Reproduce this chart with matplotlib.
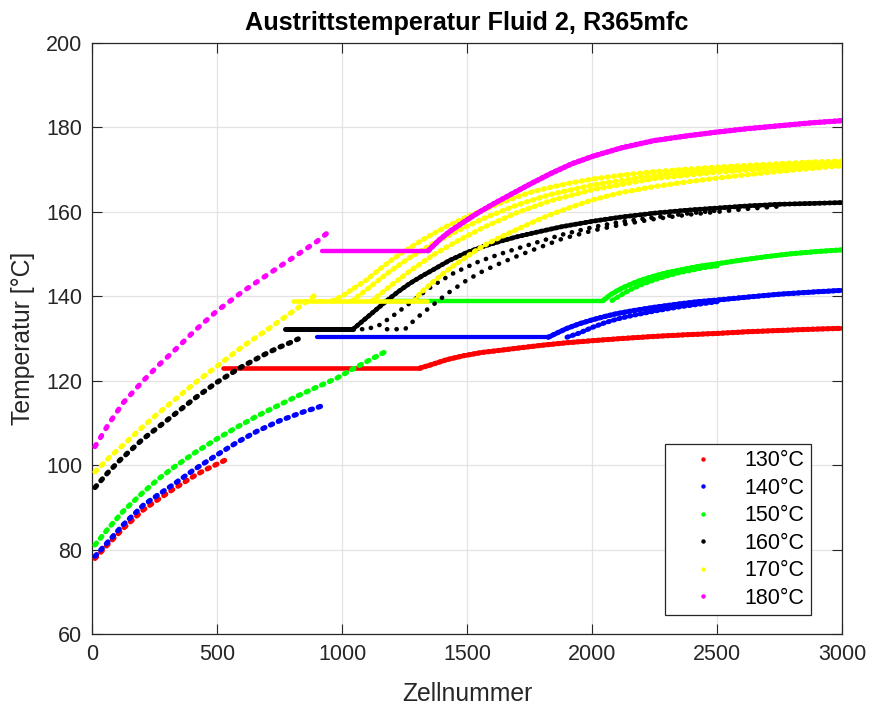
import matplotlib
matplotlib.use("Agg")
import matplotlib.pyplot as plt
from matplotlib.lines import Line2D

plt.rcParams['font.family'] = ['Liberation Sans', 'DejaVu Sans']

labels = ['130°C', '140°C', '150°C', '160°C', '170°C', '180°C']
colors = ['#ff0000', '#0000ff', '#00ff00', '#000000', '#ffff00', '#ff00ff']

# ---- 130 °C ----
c130_liq = [12, 65, 125, 205, 265, 325, 405, 450, 492, 540]
t130_liq = [77.9, 81.3, 85.0, 89.4, 91.9, 94.3, 97.3, 98.8, 100.0, 101.4]
c130_evap = [525, 1312]
t130_evap = [123.0, 123.0]
c130_vap = [1312, 1352, 1420, 1485, 1560, 1632, 1700, 1800, 1900, 2005, 2120, 2250,
            2380, 2499, 2620, 2750, 2880, 3000]
t130_vap = [123.0, 123.7, 125.0, 125.9, 126.7, 127.2, 127.7, 128.4, 129.0, 129.5, 130.0,
            130.5, 130.9, 131.2, 131.6, 131.9, 132.2, 132.4]

# ---- 140 °C ----
c140_liq = [12, 65, 125, 205, 265, 325, 405, 499, 580, 659, 750, 845, 919]
t140_liq = [78.4, 81.9, 85.9, 90.5, 93.0, 95.4, 98.8, 102.4, 105.4, 108.0, 110.5, 112.6, 114.0]
c140_evap = [899, 1830]
t140_evap = [130.3, 130.3]
c140_vap_a = [1825, 1860, 1900, 1950, 2000, 2050, 2100, 2165, 2250, 2350, 2420, 2500,
              2620, 2750, 2880, 3000]
t140_vap_a = [130.3, 131.3, 132.4, 133.5, 134.4, 135.2, 135.9, 136.6, 137.4, 138.2, 138.7,
              139.1, 139.8, 140.5, 141.0, 141.4]
c140_vap_b = [1900, 1950, 2000, 2050, 2100, 2165, 2250, 2350, 2450, 2500]
t140_vap_b = [130.3, 131.3, 132.6, 133.7, 134.6, 135.5, 136.5, 137.5, 138.3, 138.7]

# ---- 150 °C ----
c150_liq = [12, 65, 125, 205, 265, 325, 410, 499, 580, 659, 740, 819, 900, 979, 1050, 1168]
t150_liq = [81.1, 85.0, 89.1, 93.6, 96.7, 99.4, 102.9, 106.2, 109.0, 111.6, 114.0, 116.3,
            118.5, 120.6, 123.0, 126.7]
c150_evap = [1168, 2045]
t150_evap = [139.0, 139.0]
c150_vap_a = [2045, 2072, 2100, 2130, 2165, 2200, 2250, 2299, 2350, 2400, 2450, 2500,
              2600, 2699, 2800, 2900, 3000]
t150_vap_a = [139.0, 140.3, 141.3, 142.2, 143.1, 143.9, 144.8, 145.6, 146.2, 146.8, 147.3,
              147.7, 148.6, 149.4, 150.1, 150.6, 151.0]
c150_vap_b = [2080, 2100, 2130, 2165, 2200, 2250, 2299, 2350, 2400, 2450, 2500]
t150_vap_b = [139.0, 139.7, 140.8, 141.9, 142.8, 143.9, 144.8, 145.6, 146.2, 146.8, 147.2]

# ---- 160 °C ----
c160_liq = [12, 60, 112, 200, 265, 325, 410, 499, 599, 699, 752, 800, 825]
t160_liq = [94.7, 98.0, 101.2, 106.0, 109.0, 111.8, 115.8, 119.6, 123.3, 126.5, 128.0,
            129.2, 129.9]
c160_evap = [772, 1044]
t160_evap = [132.2, 132.2]
c160_vap_a = [1044, 1070, 1100, 1140, 1180, 1225, 1270, 1320, 1365, 1430, 1500, 1565,
              1632, 1700, 1765, 1880, 2005, 2120, 2250, 2380, 2500, 2620, 2750, 2880, 3000]
t160_vap_a = [132.2, 133.5, 135.0, 137.0, 139.0, 141.1, 143.0, 144.8, 146.3, 148.5, 150.4,
              151.8, 153.0, 154.1, 155.0, 156.5, 157.8, 158.8, 159.7, 160.4, 160.9, 161.4,
              161.8, 162.0, 162.2]
c160_vap_b = [1044, 1100, 1150, 1200, 1272, 1320, 1365, 1450, 1550, 1632, 1700, 1765,
              1880, 2005, 2120, 2250, 2380, 2500]
t160_vap_b = [132.2, 132.2, 133.2, 135.2, 138.4, 140.6, 142.6, 145.6, 148.3, 150.0, 151.3,
              152.5, 154.6, 156.4, 157.7, 158.7, 159.6, 160.3]
c160_vap_c = [1180, 1252, 1272, 1310, 1352, 1420, 1499, 1565, 1632, 1700, 1765, 1880,
              2005, 2120, 2250, 2380, 2500, 2620, 2750]
t160_vap_c = [132.2, 132.2, 133.4, 135.4, 137.4, 140.6, 143.8, 146.0, 147.8, 149.5, 151.0,
              153.6, 155.6, 157.0, 158.3, 159.3, 160.0, 160.7, 161.3]

# ---- 170 °C ----
c170_liq = [12, 65, 125, 205, 265, 325, 410, 499, 600, 699, 765, 830, 872, 899]
t170_liq = [98.4, 101.6, 104.8, 109.2, 112.3, 115.2, 119.4, 123.4, 128.0, 132.0, 134.8,
            137.5, 139.3, 140.6]
c170_evap = [805, 1340]
t170_evap = [138.9, 138.9]
c170_vap_a = [960, 1000, 1050, 1099, 1150, 1192, 1235, 1272, 1320, 1365, 1410, 1459, 1510,
              1565, 1630, 1699, 1765, 1832, 1920, 2005, 2120, 2250, 2380, 2500, 2620, 2750,
              2880, 3000]
t170_vap_a = [138.9, 140.0, 142.0, 143.9, 146.4, 148.3, 150.1, 151.5, 153.3, 154.8, 156.3,
              157.7, 159.1, 160.4, 162.0, 163.5, 164.8, 165.8, 166.9, 167.8, 168.7, 169.5,
              170.1, 170.6, 171.0, 171.4, 171.8, 172.0]
c170_vap_b = [1040, 1099, 1150, 1192, 1272, 1365, 1459, 1565, 1699, 1832, 2005, 2250, 2500,
              2750, 3000]
t170_vap_b = [138.9, 141.6, 144.0, 145.9, 149.2, 152.5, 155.4, 158.4, 161.6, 164.1, 166.4,
              168.6, 170.0, 171.0, 171.6]
c170_vap_c = [1120, 1192, 1272, 1365, 1459, 1565, 1699, 1832, 2005, 2250, 2500, 2750, 3000]
t170_vap_c = [138.9, 142.4, 146.0, 149.8, 153.0, 156.3, 159.8, 162.6, 165.3, 167.9, 169.4,
              170.5, 171.3]
c170_vap_d = [1290, 1312, 1360, 1405, 1450, 1499, 1540, 1579, 1640, 1699, 1765, 1832, 1920,
              2005, 2120, 2250, 2380, 2500, 2620, 2750, 2880, 3000]
t170_vap_d = [138.9, 140.7, 143.2, 145.4, 147.4, 149.4, 151.0, 152.4, 154.2, 155.8, 157.6,
              159.3, 161.2, 162.9, 164.6, 166.0, 167.1, 168.0, 168.8, 169.6, 170.3, 170.9]

# ---- 180 °C ----
c180_liq = [12, 65, 125, 205, 265, 325, 410, 499, 600, 699, 800, 900, 939]
t180_liq = [104.4, 109.6, 114.8, 120.0, 123.6, 126.9, 131.8, 136.5, 141.0, 145.0, 149.0,
            153.0, 154.9]
c180_evap = [919, 1345]
t180_evap = [150.8, 150.8]
c180_vap = [1345, 1390, 1432, 1480, 1539, 1600, 1659, 1740, 1832, 1920, 2005, 2120, 2250,
            2380, 2500, 2620, 2750, 2880, 3000]
t180_vap = [150.8, 153.4, 155.4, 157.3, 159.6, 161.7, 163.6, 166.2, 169.0, 171.4, 173.2,
            175.2, 176.9, 178.0, 178.9, 179.7, 180.4, 181.1, 181.6]

x_ticks = [0, 500, 1000, 1500, 2000, 2500, 3000]
y_ticks = [60, 80, 100, 120, 140, 160, 180, 200]

W, H = 871, 708
fig = plt.figure(figsize=(W / 100, H / 100), dpi=100)
ax = fig.add_axes([92 / W, 1 - 634 / H, 750 / W, 591 / H])

PX = 0.72  # points per pixel at 100 dpi


def dotted(x, y, color, lw_px=5.2, step_px=9.0, on=0.45, z=3):
    lw = lw_px * PX
    off = step_px * PX / lw - on
    ax.plot(x, y, color=color, lw=lw, linestyle=(0, (on, off)),
            dash_capstyle='round', zorder=z)


def solid(x, y, color, lw_px=4.6, z=3):
    ax.plot(x, y, color=color, lw=lw_px * PX, solid_capstyle='round', zorder=z)


def band(x, y, color, lw_px=4.4):
    solid(x, y, color, lw_px=lw_px)
    dotted(x, y, color, lw_px=lw_px + 0.8, step_px=5.0, on=0.3)


# 130 °C
col = colors[0]
dotted(c130_liq, t130_liq, col, step_px=8.5)
solid(c130_evap, t130_evap, col)
band(c130_vap, t130_vap, col)

# 140 °C
col = colors[1]
dotted(c140_liq, t140_liq, col, step_px=8.5)
solid(c140_evap, t140_evap, col, lw_px=4.2)
dotted(c140_vap_b, t140_vap_b, col, lw_px=5.0, step_px=5.5, on=0.3)
band(c140_vap_a, t140_vap_a, col)

# 150 °C
col = colors[2]
dotted(c150_liq, t150_liq, col, step_px=8.5)
solid(c150_evap, t150_evap, col, lw_px=4.4)
dotted(c150_vap_b, t150_vap_b, col, lw_px=5.0, step_px=5.5, on=0.3)
band(c150_vap_a, t150_vap_a, col)

# 160 °C
col = colors[3]
dotted(c160_liq, t160_liq, col, step_px=9.0)
solid(c160_evap, t160_evap, col, lw_px=5.0)
dotted(c160_vap_c, t160_vap_c, col, lw_px=4.6, step_px=9.5, on=0.05)
dotted(c160_vap_b, t160_vap_b, col, lw_px=4.6, step_px=9.0, on=0.05)
band(c160_vap_a, t160_vap_a, col, lw_px=4.0)

# 170 °C
col = colors[4]
dotted(c170_liq, t170_liq, col, step_px=9.0)
solid(c170_evap, t170_evap, col, lw_px=4.6)
for cx, ty in [(c170_vap_d, t170_vap_d), (c170_vap_c, t170_vap_c),
               (c170_vap_b, t170_vap_b), (c170_vap_a, t170_vap_a)]:
    dotted(cx, ty, col, lw_px=5.2, step_px=6.5, on=0.3)

# 180 °C
col = colors[5]
dotted(c180_liq, t180_liq, col, step_px=10.5)
solid(c180_evap, t180_evap, col, lw_px=4.4)
band(c180_vap, t180_vap, col, lw_px=4.6)

# axes styling
edge = '#262626'
ax.set_xlim(0, 3000)
ax.set_ylim(60, 200)
ax.set_xticks(x_ticks)
ax.set_yticks(y_ticks)
ax.tick_params(direction='in', length=7, width=0.8, top=True, right=True,
               labelsize=15.5, colors=edge, pad=7)
for s in ax.spines.values():
    s.set_color(edge)
    s.set_linewidth(0.9)
ax.grid(True, color='#e3e3e3', lw=0.9)
ax.set_axisbelow(True)

fig.text(467 / W, 1 - 30 / H, 'Austrittstemperatur Fluid 2, R365mfc',
         ha='center', va='baseline', fontsize=18.2, fontweight='bold', color='black')
fig.text(467 / W, 1 - 701 / H, 'Zellnummer', ha='center', va='baseline',
         fontsize=17.8, color=edge)
fig.text(23 / W, 1 - 338 / H, 'Temperatur [°C]', ha='center', va='center',
         rotation=90, fontsize=17.8, color=edge)

handles = [Line2D([], [], marker='o', ms=3.2, ls='none', color=c, markeredgewidth=0)
           for c in colors]
leg = ax.legend(handles, labels, loc='lower right',
                bbox_to_anchor=((811 - 92) / 750, (634 - 615) / 591),
                fontsize=15.5, frameon=True, fancybox=False, framealpha=1,
                edgecolor=edge, handlelength=2.9, handletextpad=0.48,
                labelspacing=0.30, borderpad=0.30, borderaxespad=0)
leg.get_frame().set_linewidth(0.9)
for t in leg.get_texts():
    t.set_color('black')

fig.savefig('out.png', dpi=100)
